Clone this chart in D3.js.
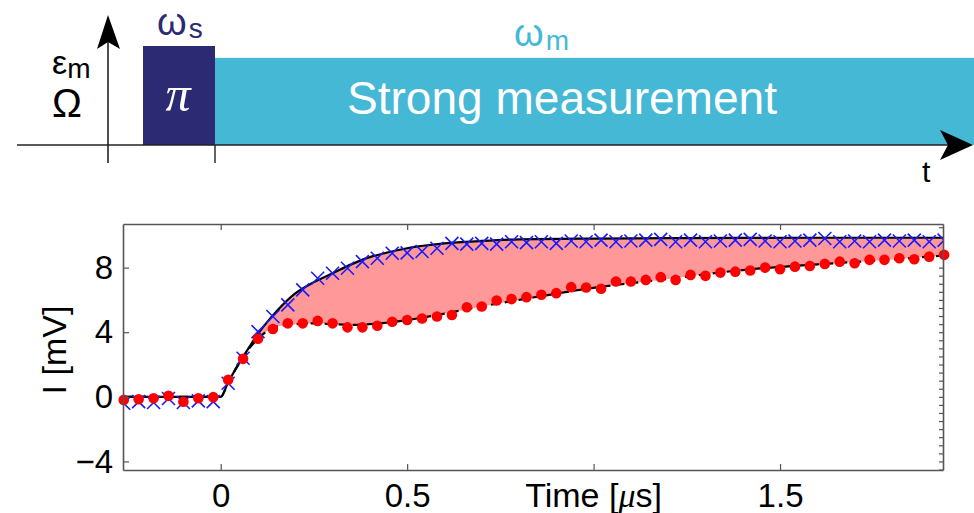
<!DOCTYPE html>
<html>
<head>
<meta charset="utf-8">
<script src="https://cdn.jsdelivr.net/npm/d3@7"></script>
<style>
  html, body { margin: 0; padding: 0; background: #fff; }
  svg { display: block; }
  text { font-family: "Liberation Sans", Arial, Helvetica, sans-serif; }
</style>
</head>
<body>
<svg id="chart" width="974" height="513"></svg>
<script>
// ---------------- DATA ----------------
// measurement times (μs)
const times = [
  -0.26, -0.22, -0.18, -0.14, -0.10, -0.06, -0.02,
  0.02, 0.06, 0.10, 0.14, 0.18, 0.22, 0.26, 0.30, 0.34, 0.38, 0.42, 0.46, 0.50,
  0.54, 0.58, 0.62, 0.66, 0.70, 0.74, 0.78, 0.82, 0.86, 0.90, 0.94, 0.98, 1.02,
  1.06, 1.10, 1.14, 1.18, 1.22, 1.26, 1.30, 1.34, 1.38, 1.42, 1.46, 1.50, 1.54,
  1.58, 1.62, 1.66, 1.70, 1.74, 1.78, 1.82, 1.86, 1.90, 1.94
];
// blue crosses (mV)
const blueValues = [
  -0.40, -0.30, -0.35, -0.10, -0.35, -0.25, -0.30,
  0.84, 2.39, 4.04, 4.97, 5.69, 6.62, 7.34, 7.65, 7.96, 8.37, 8.58, 8.89, 8.91,
  9.00, 9.20, 9.50, 9.45, 9.50, 9.45, 9.60, 9.55, 9.60, 9.50, 9.65, 9.60, 9.70,
  9.60, 9.65, 9.70, 9.75, 9.60, 9.70, 9.60, 9.65, 9.70, 9.75, 9.65, 9.60, 9.65,
  9.70, 9.80, 9.60, 9.65, 9.60, 9.70, 9.65, 9.70, 9.60, 9.70
];
// red dots (mV)
const redValues = [
  -0.19, -0.15, -0.09, 0.06, -0.30, -0.09, -0.02,
  1.05, 2.35, 3.60, 4.20, 4.55, 4.55, 4.70, 4.55, 4.30, 4.30, 4.40, 4.65, 4.76,
  4.85, 4.97, 5.07, 5.55, 5.59, 5.96, 6.05, 6.17, 6.32, 6.42, 6.79, 6.77, 6.69,
  7.14, 7.14, 7.24, 7.41, 7.24, 7.55, 7.49, 7.69, 7.75, 7.82, 8.00, 7.90, 8.06,
  8.10, 8.23, 8.37, 8.27, 8.48, 8.48, 8.58, 8.52, 8.68, 8.79
];
// fit curves
const fitTimes = [-0.262, 0, 0.02, 0.05, 0.08, 0.10, 0.12, 0.15, 0.20, 0.25, 0.30, 0.35, 0.40, 0.45, 0.50, 0.60, 0.70, 0.80, 1.00, 1.20, 1.40, 1.60, 1.80, 1.937];
const fitBlue = [0, 0, 0.9, 2.1, 3.2, 3.9, 4.5, 5.3, 6.4, 7.1, 7.65, 8.2, 8.65, 8.95, 9.2, 9.5, 9.65, 9.75, 9.8, 9.82, 9.84, 9.85, 9.85, 9.85];
const fitRed  = [0, 0, 0.9, 2.1, 3.1, 3.6, 4.0, 4.35, 4.5, 4.55, 4.5, 4.45, 4.5, 4.6, 4.75, 5.15, 5.6, 6.0, 6.75, 7.3, 7.85, 8.2, 8.5, 8.75];
// axes
const xTicks = [0, 0.5, 1, 1.5];
const xTickLabels = ["0", "0.5", "", "1.5"];
const yTicks = [-4, 0, 4, 8];
const yTickLabels = ["\u22124", "0", "4", "8"];
// schematic pulses
const pulseNames = ["s", "m"];
const pulseStart = [-0.2, 0];
const pulseEnd = [0, 2.5];
const pulseAmp = [1.0, 0.88];
const pulseColors = ["#2b2a73", "#45b8d6"];

// ---------------- LAYOUT ----------------
const svg = d3.select("#chart");
const plot = {left: 123, right: 943, top: 224, bottom: 470};
const x = d3.scaleLinear().domain([-0.262, 1.937]).range([plot.left, plot.right]);
const y = d3.scaleLinear().domain([-4.53, 10.7]).range([plot.bottom, plot.top]);

const FS = 33;

// ---- schematic ----
const sx = d3.scaleLinear().domain([-0.2, 0]).range([143, 215]);
const sy = d3.scaleLinear().domain([0, 1]).range([145, 46]);
const sch = svg.append("g");
sch.selectAll("rect.pulse").data(pulseNames).join("rect")
  .attr("class", "pulse")
  .attr("x", (d, i) => sx(pulseStart[i]))
  .attr("y", (d, i) => sy(pulseAmp[i]))
  .attr("width", (d, i) => sx(pulseEnd[i]) - sx(pulseStart[i]))
  .attr("height", (d, i) => sy(0) - sy(pulseAmp[i]))
  .attr("fill", (d, i) => pulseColors[i]);

// horizontal axis
sch.append("line").attr("x1", 17).attr("x2", 950).attr("y1", sy(0)).attr("y2", sy(0))
  .attr("stroke", "#222").attr("stroke-width", 1.6);
sch.append("path").attr("d", "M973,145 L940,130 L948,145 L940,160 Z").attr("fill", "#000");
// vertical axis
sch.append("line").attr("x1", 108).attr("x2", 108).attr("y1", 163).attr("y2", 30)
  .attr("stroke", "#222").attr("stroke-width", 1.6);
sch.append("path").attr("d", "M108,15 L97,49 L108,42 L120,49 Z").attr("fill", "#000");
// tick at t=0
sch.append("line").attr("x1", sx(0)).attr("x2", sx(0)).attr("y1", 145).attr("y2", 163)
  .attr("stroke", "#222").attr("stroke-width", 1.4);

// labels
sch.append("text").attr("x", 178).attr("y", 111).attr("text-anchor", "middle")
  .attr("fill", "#fff").style("font-family", "'Liberation Serif', 'DejaVu Serif', serif")
  .style("font-style", "italic").style("font-size", "50px").text("\u03c0");
const ws = sch.append("text").attr("x", 157).attr("y", 35).attr("fill", pulseColors[0]).style("font-size", "38px");
ws.append("tspan").text("\u03c9");
ws.append("tspan").attr("dx", 2).attr("dy", 3).style("font-size", "28px").text(pulseNames[0]);
const wm = sch.append("text").attr("x", 514).attr("y", 46).attr("fill", pulseColors[1]).style("font-size", "38px");
wm.append("tspan").text("\u03c9");
wm.append("tspan").attr("dx", 2).attr("dy", 4).style("font-size", "28px").text(pulseNames[1]);
sch.append("text").attr("x", 347).attr("y", 114).attr("fill", "#fff").style("font-size", "46px")
  .attr("textLength", 430).attr("lengthAdjust", "spacingAndGlyphs")
  .text("Strong measurement");
const em = sch.append("text").attr("x", 52).attr("y", 74).attr("fill", "#000").style("font-size", "34px");
em.append("tspan").text("\u03b5");
em.append("tspan").attr("dy", 4).style("font-size", "28px").text("m");
sch.append("text").attr("x", 52).attr("y", 117).attr("fill", "#000").style("font-size", "40px").text("\u03a9");
sch.append("text").attr("x", 922).attr("y", 182).attr("fill", "#000").style("font-size", "30px").text("t");

// ---- plot ----
const g = svg.append("g");
svg.append("clipPath").attr("id", "clip").append("rect")
  .attr("x", plot.left).attr("y", plot.top).attr("width", plot.right - plot.left).attr("height", plot.bottom - plot.top);

const fitData = fitTimes.map((t, i) => ({t, b: fitBlue[i], r: fitRed[i]}));
const area = d3.area().x(d => x(d.t)).y0(d => y(d.r)).y1(d => y(d.b)).curve(d3.curveMonotoneX);
const lineB = d3.line().x(d => x(d.t)).y(d => y(d.b)).curve(d3.curveMonotoneX);
const lineR = d3.line().x(d => x(d.t)).y(d => y(d.r)).curve(d3.curveMonotoneX);

const inner = g.append("g").attr("clip-path", "url(#clip)");
inner.append("path").datum(fitData).attr("d", area).attr("fill", "#ff9999");
inner.append("path").datum(fitData).attr("d", lineB).attr("fill", "none").attr("stroke", "#000").attr("stroke-width", 2.2);
inner.append("path").datum(fitData).attr("d", lineR).attr("fill", "none").attr("stroke", "#000").attr("stroke-width", 2.2).attr("stroke-dasharray", "9,5");

const pts = times.map((t, i) => ({t, b: blueValues[i], r: redValues[i]}));
const s = 6.5;
inner.selectAll("path.cross").data(pts).join("path").attr("class", "cross")
  .attr("d", d => `M${x(d.t) - s},${y(d.b) - s}L${x(d.t) + s},${y(d.b) + s}M${x(d.t) - s},${y(d.b) + s}L${x(d.t) + s},${y(d.b) - s}`)
  .attr("stroke", "#1a1aff").attr("stroke-width", 1.6).attr("fill", "none");
svg.selectAll("circle.dot").data(pts).join("circle").attr("class", "dot")
  .attr("cx", d => x(d.t)).attr("cy", d => y(d.r)).attr("r", 5.3).attr("fill", "#ff0000");

// axes
const axisColor = "#555";
const ax = svg.append("g");
ax.append("g").attr("transform", `translate(0,${plot.bottom})`)
  .call(d3.axisBottom(x).tickValues(xTicks).tickFormat((d, i) => xTickLabels[i]).tickSizeInner(-6).tickSizeOuter(0).tickPadding(14));
ax.append("g").attr("transform", `translate(0,${plot.top})`)
  .call(d3.axisTop(x).tickValues(xTicks).tickFormat("").tickSizeInner(-6).tickSizeOuter(0));
ax.append("g").attr("transform", `translate(${plot.left},0)`)
  .call(d3.axisLeft(y).tickValues(yTicks).tickFormat((d, i) => yTickLabels[i]).tickSizeInner(-6).tickSizeOuter(0).tickPadding(10));
const rightTicks = d3.range(-4.5, 8.01, 0.5).concat([10.5]);
ax.append("g").attr("transform", `translate(${plot.right},0)`)
  .call(d3.axisRight(y).tickValues(rightTicks).tickFormat("").tickSizeInner(-4).tickSizeOuter(0));
ax.selectAll(".domain").attr("stroke", axisColor).attr("stroke-width", 1.6);
ax.selectAll(".tick line").attr("stroke", axisColor).attr("stroke-width", 1.2);
ax.selectAll(".tick text").attr("fill", "#000").style("font-size", FS + "px")
  .style("font-family", "'Liberation Sans', Arial, sans-serif");

// x label
const xl = svg.append("text").attr("x", x(1)).attr("y", 507).attr("text-anchor", "middle")
  .style("font-size", "34px").attr("fill", "#000");
xl.append("tspan").text("Time [");
xl.append("tspan").style("font-style", "italic").style("font-family", "'Liberation Serif', serif").text("\u03bc");
xl.append("tspan").text("s]");
// y label
svg.append("text").attr("transform", `translate(66,${(plot.top + plot.bottom) / 2 + 3}) rotate(-90)`)
  .attr("text-anchor", "middle").style("font-size", "34px").attr("fill", "#000").text("I [mV]");
</script>
</body>
</html>
